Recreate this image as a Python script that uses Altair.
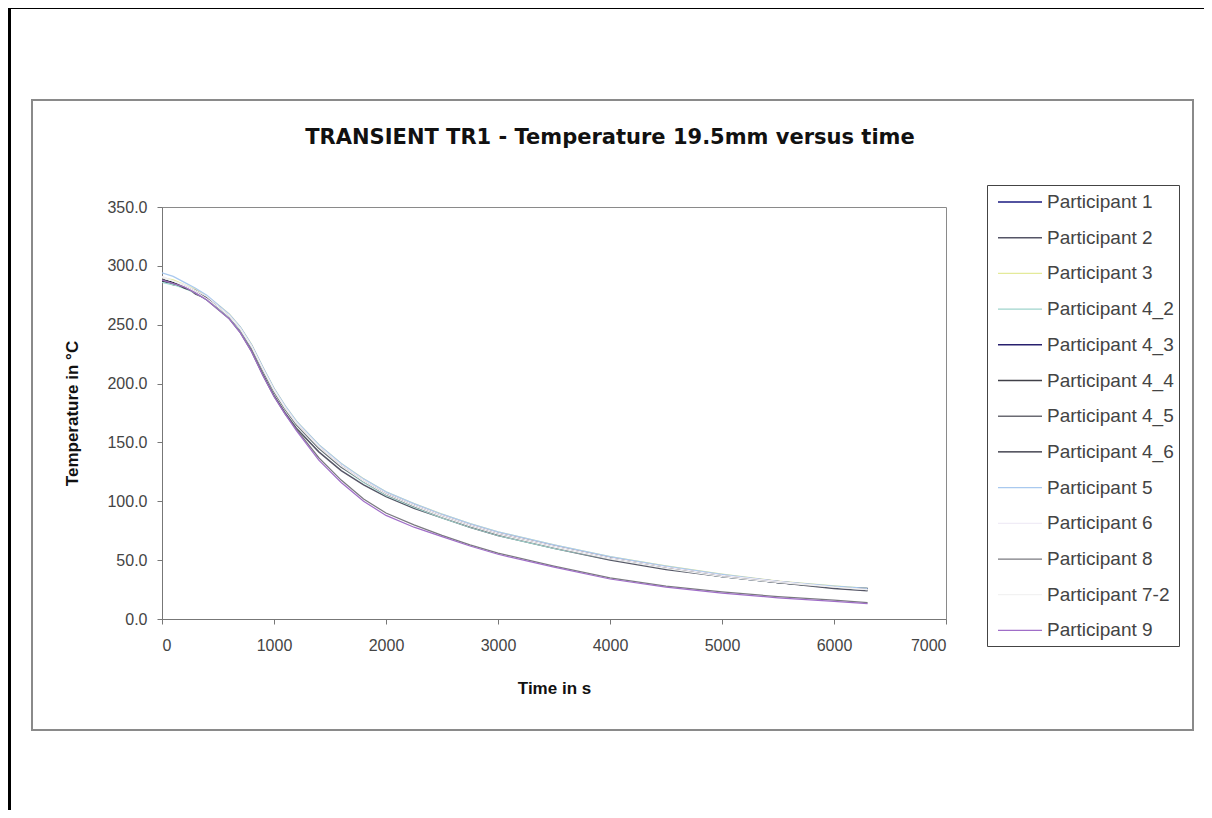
import altair as alt
import pandas as pd

# ---- data ----
time_s = [0, 100, 200, 300, 400, 500, 600, 700, 800, 900, 1000, 1100, 1200, 1400,
          1600, 1800, 2000, 2250, 2500, 2750, 3000, 3500, 4000, 4500, 5000, 5500, 6000, 6300]

participants = ["Participant 1", "Participant 2", "Participant 3", "Participant 4_2",
                "Participant 4_3", "Participant 4_4", "Participant 4_5", "Participant 4_6",
                "Participant 5", "Participant 6", "Participant 8", "Participant 7-2",
                "Participant 9"]

p1 = [287, 285, 282, 278, 272, 265, 257, 246, 231, 212, 194, 179, 166, 146, 130, 117, 106, 96, 87, 79, 72, 61, 51, 43, 36, 31, 27, 25]
p2 = [289, 284, 283, 276, 272, 264, 256, 244, 228, 208, 190, 175, 162, 142, 126, 114, 104, 94, 86, 78, 71, 60, 50, 42, 36, 31, 26, 24]
p3 = [290, 288, 284, 280, 274, 267, 259, 248, 233, 214, 196, 181, 168, 148, 132, 119, 108, 98, 89, 81, 74, 63, 53, 45, 38, 32, 28, 26]
p4_2 = [286, 284, 281, 277, 271, 264, 256, 245, 230, 211, 193, 178, 165, 145, 129, 116, 105, 95, 86, 78, 71, 60, 51, 43, 36, 31, 27, 25]
p4_3 = [288, 286, 283, 279, 273, 266, 258, 247, 232, 213, 195, 180, 167, 147, 131, 118, 107, 97, 88, 80, 73, 62, 52, 44, 37, 31.5, 27, 25.5]
p4_4 = [287, 286, 281, 278, 273, 265, 257, 246, 231, 212, 194, 179, 166, 146, 130, 117, 106, 96, 87, 79, 72, 61, 51, 43, 36, 31, 27, 25]
p4_5 = [289, 285, 283, 277, 272, 266, 258, 246, 230, 211, 193, 178, 165, 145, 129, 117, 106, 96, 87, 79, 72, 61, 51, 43, 37, 31, 27, 25]
p4_6 = [288, 286, 282, 279, 272, 266, 258, 247, 232, 213, 195, 180, 167, 147, 131, 118, 107, 97, 88, 80, 73, 62, 52, 44, 37, 32, 27, 26]
p5 = [294, 291, 286, 281, 275, 267, 259, 248, 233, 214, 196, 181, 168, 148, 132, 119, 108, 98, 89, 81, 74, 63, 53, 45, 38, 32, 28, 26]
p6 = [291, 287, 284, 279, 274, 266, 258, 247, 232, 213, 195, 180, 167, 147, 131, 118, 107, 97, 88, 80, 73, 62, 52, 44, 37, 32, 27, 25]
p8 = [288, 285, 282, 277, 271, 263, 255, 243, 227, 207, 189, 174, 161, 137, 118, 102, 90, 80, 71, 63, 56, 45, 35, 28, 23, 19, 16, 14]
p7_2 = [290, 287, 283, 278, 272, 265, 257, 246, 231, 212, 194, 179, 166, 146, 130, 117, 106, 96, 87, 79, 72, 61, 51, 43, 36, 31, 27, 25]
p9 = [288, 285, 282, 277, 271, 263, 255, 243, 227, 207, 189, 174, 160, 135, 116, 100, 88, 78, 70, 62, 55, 44, 34, 27, 22, 18, 15, 13]

series_values = [p1, p2, p3, p4_2, p4_3, p4_4, p4_5, p4_6, p5, p6, p8, p7_2, p9]

line_colors = ["#1a1a80", "#555566", "#e4ea9a", "#9fd4cc", "#28206e", "#404048",
               "#6a6a72", "#222230", "#a9c9ef", "#f0ecf6", "#7a7a80", "#f2f2f2", "#a06ec8"]
line_widths = [1.5, 1.2, 1.5, 1.5, 3.0, 1.2, 1.2, 1.5, 1.5, 1.2, 1.2, 1.2, 1.2]

x_ticks = [0, 1000, 2000, 3000, 4000, 5000, 6000, 7000]
y_ticks = [0, 50, 100, 150, 200, 250, 300, 350]

title_text = "TRANSIENT TR1 - Temperature 19.5mm versus time"

rows = []
for name, vals in zip(participants, series_values):
    for t, v in zip(time_s, vals):
        rows.append({"participant": name, "time": t, "temp": v})
df = pd.DataFrame(rows)

FONT = "Liberation Sans"

legend_def = alt.Legend(
    title=None, orient="none", legendX=825, legendY=-22,
    symbolType="M-2,0H2", symbolSize=484,
    symbolOffset=16, labelOffset=15,
    labelFont=FONT, labelFontSize=19, labelColor="#444444", labelLimit=300,
    rowPadding=13.7, strokeColor="#444444", fillColor="white", padding=5,
)

lines = alt.Chart(df).mark_line(clip=True).encode(
    x=alt.X("time:Q", scale=alt.Scale(domain=[0, 7000], nice=False),
            axis=alt.Axis(values=x_ticks, format="d", title="Time in s",
                          labelPadding=13, titlePadding=27)),
    y=alt.Y("temp:Q", scale=alt.Scale(domain=[0, 350], nice=False),
            axis=alt.Axis(values=y_ticks, format=".1f", title="Temperature in °C",
                          labelPadding=10, titlePadding=25)),
    color=alt.Color("participant:N", sort=participants,
                    scale=alt.Scale(domain=participants, range=line_colors),
                    legend=legend_def),
    strokeWidth=alt.StrokeWidth("participant:N", sort=participants,
                                scale=alt.Scale(domain=participants, range=line_widths),
                                legend=legend_def),
)

frame_src = pd.DataFrame({"k": [0]})
outer_frame = alt.Chart(frame_src).mark_rect(
    fillOpacity=0, stroke="black", strokeWidth=3, clip=False
).encode(x=alt.value(-152.5), x2=alt.value(1100), y=alt.value(-199.5), y2=alt.value(700))

chart_box = alt.Chart(frame_src).mark_rect(
    fillOpacity=0, stroke="#8a8a8a", strokeWidth=2, clip=False
).encode(x=alt.value(-130), x2=alt.value(1031), y=alt.value(-107), y2=alt.value(523))

title_mark = alt.Chart(frame_src).mark_text(
    text=title_text, font="DejaVu Sans", fontSize=21, fontWeight="bold",
    color="#111111", align="center", baseline="middle", clip=False
).encode(x=alt.value(448), y=alt.value(-69))

chart = alt.layer(outer_frame, chart_box, title_mark, lines).properties(
    width=784, height=412,
    autosize=alt.AutoSizeParams(type="none"),
    padding={"left": 154, "top": 199, "right": 258, "bottom": 191},
    background="white",
).configure_view(
    stroke="#8a8a8a", strokeWidth=1
).configure_axis(
    grid=False, domainColor="#777777", tickColor="#777777", tickSize=5,
    labelFont=FONT, labelFontSize=16, labelColor="#444444",
    titleFont=FONT, titleFontSize=17, titleFontWeight="bold", titleColor="#111111",
)

chart.save("out.html", embed_options={"renderer": "svg", "actions": False})
